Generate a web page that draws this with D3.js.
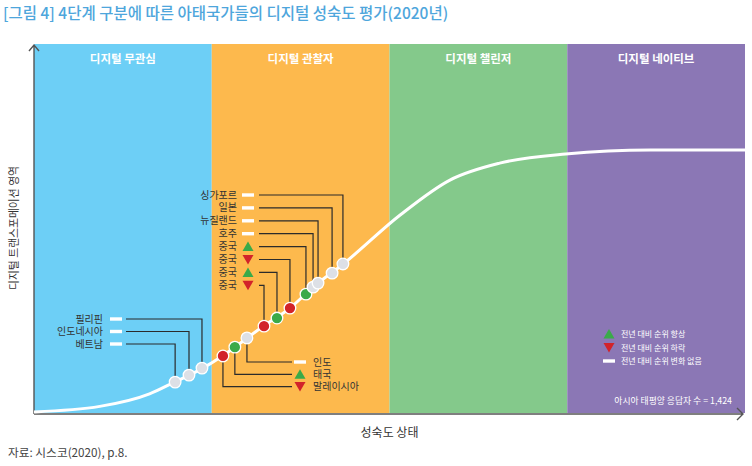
<!DOCTYPE html>
<html>
<head>
<meta charset="utf-8">
<script src="https://cdn.jsdelivr.net/npm/d3@7"></script>
<style>
  body { margin: 0; background: #fff; }
  text { font-family: "Noto Sans CJK KR", "Noto Sans", sans-serif; }
</style>
</head>
<body>
<div id="vis-holder"></div>
<script>
// Chart data
const stages = ["디지털 무관심", "디지털 관찰자", "디지털 챌린저", "디지털 네이티브"];
const stageColors = ["#6dcff6", "#fdb94d", "#84c98b", "#8b77b5"];

// S-curve of digital maturity (x: stage 0-4, y: transformation 0-100)
const curveX = [0, 0.37, 0.65, 0.79, 0.95, 1.06, 1.2, 1.29, 1.44, 1.57, 1.74, 2.06, 2.34, 2.62, 2.99, 3.47, 4.0];
const curveY = [0.3, 1.8, 5.2, 8.4, 12.2, 15.5, 20.4, 23.6, 28.5, 34.2, 40.5, 53.8, 63.3, 67.9, 70.4, 71.5, 71.5];

// Countries on the curve: name, position, rank change vs. previous year
const countries = ["베트남", "인도네시아", "필리핀", "말레이시아", "태국", "인도", "중국", "중국", "중국", "중국", "호주", "뉴질랜드", "일본", "싱가포르"];
const countryX = [0.794, 0.872, 0.945, 1.063, 1.13, 1.198, 1.294, 1.367, 1.44, 1.53, 1.57, 1.598, 1.677, 1.738];
const countryY = [8.4, 10.3, 12.2, 15.5, 17.9, 20.4, 23.6, 25.8, 28.5, 32.3, 34.2, 35.3, 38.0, 40.5];
const countryChange = ["same", "same", "same", "down", "up", "same", "down", "up", "down", "up", "same", "same", "same", "same"];
// label group of each country: left, top, bottom
const countryGroup = ["left", "left", "left", "bottom", "bottom", "bottom", "top", "top", "top", "top", "top", "top", "top", "top"];

const legendLabels = ["전년 대비 순위 향상", "전년 대비 순위 하락", "전년 대비 순위 변화 없음"];
const legendKeys = ["up", "down", "same"];

const width = 752, height = 466;
const margin = { top: 44, right: 7, bottom: 53, left: 34 };

const svg = d3.select("#vis-holder")
  .append("svg")
  .attr("width", width)
  .attr("height", height);

const x = d3.scaleLinear().domain([0, 4]).range([margin.left, width - margin.right]);
const y = d3.scaleLinear().domain([0, 100]).range([height - margin.bottom, 45]);

// Title
svg.append("text")
  .attr("x", 3).attr("y", 19)
  .attr("fill", "#4ea6dc")
  .attr("font-size", "15.5px")
  .attr("font-weight", 500)
  .text("[그림 4] 4단계 구분에 따른 아태국가들의 디지털 성숙도 평가(2020년)");

// Stage bands
svg.selectAll(".band")
  .data(stages)
  .enter()
  .append("rect")
  .attr("class", "band")
  .attr("x", (d, i) => x(i))
  .attr("y", margin.top)
  .attr("width", x(1) - x(0))
  .attr("height", height - margin.bottom - margin.top)
  .attr("fill", (d, i) => stageColors[i]);

svg.selectAll(".band-title")
  .data(stages)
  .enter()
  .append("text")
  .attr("x", (d, i) => x(i + 0.5))
  .attr("y", 63)
  .attr("text-anchor", "middle")
  .attr("fill", "#fff")
  .attr("font-size", "11.5px")
  .attr("font-weight", "bold")
  .text(d => d);

// Axes with arrow heads
const axisColor = "#555";
const x0 = x(0), yBase = y(0) + 1;
svg.append("path")
  .attr("d", `M${x0},${yBase} V45 M${x0 - 5},51 L${x0},45 L${x0 + 5},51`)
  .attr("fill", "none").attr("stroke", axisColor).attr("stroke-width", 1.4);
svg.append("path")
  .attr("d", `M${x0},${yBase} H${x(4) - 2} M${x(4) - 8},${yBase - 6} L${x(4) - 2},${yBase} L${x(4) - 8},${yBase + 6}`)
  .attr("fill", "none").attr("stroke", axisColor).attr("stroke-width", 1.4);

svg.append("text")
  .attr("transform", `translate(18, ${228}) rotate(-90)`)
  .attr("text-anchor", "middle")
  .attr("fill", "#333")
  .attr("font-size", "10.8px")
  .text("디지털 트랜스포메이션 영역");

svg.append("text")
  .attr("x", x(2)).attr("y", 437)
  .attr("text-anchor", "middle")
  .attr("fill", "#333")
  .attr("font-size", "12px")
  .text("성숙도 상태");

svg.append("text")
  .attr("x", 8).attr("y", 457)
  .attr("fill", "#444")
  .attr("font-size", "11.7px")
  .text("자료: 시스코(2020), p.8.");

// S-curve
const line = d3.line()
  .x((d, i) => x(curveX[i]))
  .y((d, i) => y(curveY[i]))
  .curve(d3.curveMonotoneX);

svg.append("path")
  .datum(curveX)
  .attr("d", line)
  .attr("fill", "none")
  .attr("stroke", "#fff")
  .attr("stroke-width", 3);

// Markers
const changeColor = { up: "#3aaa49", down: "#d2232a", same: "#dde0e6" };
function marker(g, key, cx, cy) {
  if (key === "same") {
    g.append("rect").attr("x", cx - 6).attr("y", cy - 1.7).attr("width", 12).attr("height", 3.4).attr("fill", "#fff");
  } else if (key === "up") {
    g.append("path").attr("d", `M${cx - 5.5},${cy + 4.5} L${cx + 5.5},${cy + 4.5} L${cx},${cy - 5}Z`).attr("fill", changeColor.up);
  } else {
    g.append("path").attr("d", `M${cx - 5.5},${cy - 4.5} L${cx + 5.5},${cy - 4.5} L${cx},${cy + 5}Z`).attr("fill", changeColor.down);
  }
}

// Labels and leader lines
const labels = svg.append("g");
const leaders = svg.append("g");
const rowStep = 12.9;
const groupIdx = { left: [], top: [], bottom: [] };
countries.forEach((c, i) => groupIdx[countryGroup[i]].push(i));

// left group: top row = farthest point along the curve
groupIdx.left.slice().reverse().forEach((i, r) => {
  const ly = 319 + r * 12.5;
  labels.append("text").attr("x", 103).attr("y", ly + 3.5).attr("text-anchor", "end")
    .attr("fill", "#333").attr("font-size", "10px").text(countries[i]);
  marker(labels, countryChange[i], 116, ly);
  leaders.append("path")
    .attr("d", `M126,${ly} H${x(countryX[i])} V${y(countryY[i])}`);
});

// top group
groupIdx.top.slice().reverse().forEach((i, r) => {
  const ly = 195 + r * rowStep;
  labels.append("text").attr("x", 237).attr("y", ly + 3.5).attr("text-anchor", "end")
    .attr("fill", "#333").attr("font-size", "10px").text(countries[i]);
  marker(labels, countryChange[i], 248, ly);
  leaders.append("path")
    .attr("d", `M259,${ly} H${x(countryX[i])} V${y(countryY[i])}`);
});

// bottom group: top row = farthest point
groupIdx.bottom.slice().reverse().forEach((i, r) => {
  const ly = 362 + r * 12.3;
  labels.append("text").attr("x", 313).attr("y", ly + 3.5)
    .attr("fill", "#333").attr("font-size", "10px").text(countries[i]);
  marker(labels, countryChange[i], 300, ly);
  leaders.append("path")
    .attr("d", `M${x(countryX[i])},${y(countryY[i])} V${ly} H292`);
});

leaders.selectAll("path")
  .attr("fill", "none").attr("stroke", "#2b2b2b").attr("stroke-width", 1.2);

// Country points
svg.selectAll(".pt")
  .data(countries)
  .enter()
  .append("circle")
  .attr("class", "pt")
  .attr("cx", (d, i) => x(countryX[i]))
  .attr("cy", (d, i) => y(countryY[i]))
  .attr("r", 5.8)
  .attr("fill", (d, i) => changeColor[countryChange[i]])
  .attr("stroke", "#fff")
  .attr("stroke-width", 1.3);

// Legend
const legend = svg.append("g");
legendLabels.forEach((d, i) => {
  const ly = 334 + i * 13.5;
  marker(legend, legendKeys[i], 609, ly);
  legend.append("text").attr("x", 621).attr("y", ly + 3)
    .attr("fill", "#fff").attr("font-size", "8px").text(d);
});
legend.append("text").attr("x", 732).attr("y", 404)
  .attr("text-anchor", "end")
  .attr("fill", "#fff").attr("font-size", "8.8px")
  .text("아시아 태평양 응답자 수 = 1,424");
</script>
</body>
</html>
